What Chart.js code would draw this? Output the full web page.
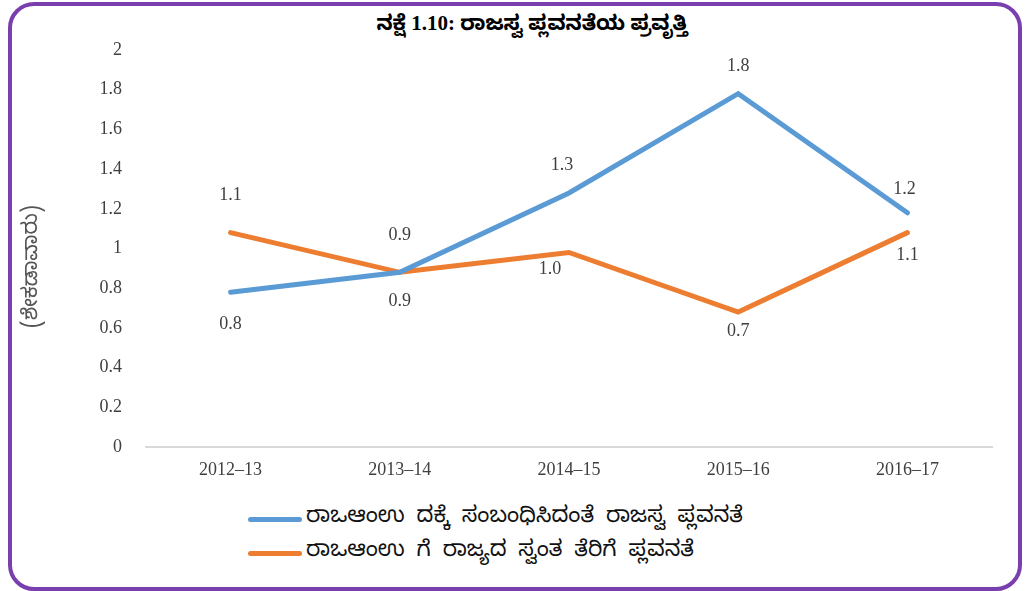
<!DOCTYPE html>
<html>
<head>
<meta charset="utf-8">
<script src="https://cdn.jsdelivr.net/npm/chart.js@4.4.0/dist/chart.umd.min.js"></script>
<style>
  body { margin: 0; background: #fff; }
  .frame {
    position: absolute; left: 8px; top: 2px; width: 1006px; height: 581px;
    border: 4px solid #7a3fae; border-radius: 26px; pointer-events: none;
  }
  .chart-box { position: absolute; left: 0; top: 0; width: 1030px; height: 495px; }
  .chart-title {
    position: absolute; left: 332px; width: 400px; top: 11px; text-align: center;
    font-family: "Liberation Serif", "Noto Sans Kannada", serif; font-size: 21px; font-weight: bold; color: #000;
  }
  .legend { position: absolute; left: 248px; top: 502px; font-family: "Noto Sans Kannada", "Noto Sans", sans-serif; font-size: 22px; word-spacing: 5.5px; color: #111; }
  .legend-item { display: flex; align-items: center; height: 34px; white-space: pre; }
  .legend-line { width: 54px; height: 5px; border-radius: 3px; margin-right: 4px; }
</style>
</head>
<body>
<div class="chart-title">ನಕ್ಷೆ 1.10: ರಾಜಸ್ವ ಪ್ಲವನತೆಯ ಪ್ರವೃತ್ತಿ</div>
<div class="chart-box"><canvas class="chart-1"></canvas></div>
<div class="legend"></div>
<div class="frame"></div>
<script>
const years = ['2012–13', '2013–14', '2014–15', '2015–16', '2016–17'];
const gsdpBuoyancy = [0.78, 0.88, 1.28, 1.78, 1.18];
const ownTaxBuoyancy = [1.08, 0.88, 0.98, 0.68, 1.08];
const seriesNames = [
    'ರಾಒಆಂಉ ದಕ್ಕೆ ಸಂಬಂಧಿಸಿದಂತೆ ರಾಜಸ್ವ ಪ್ಲವನತೆ',
    'ರಾಒಆಂಉ ಗೆ ರಾಜ್ಯದ ಸ್ವಂತ ತೆರಿಗೆ ಪ್ಲವನತೆ'
];
const colors = ['#5b9bd5', '#ed7d31'];

// label offsets (px) from the point, negative = above
const gsdpLabelDy = [32, -37, -28, -27, -24];
const gsdpLabelDx = [0, 0, -7, 0, -3];
const ownTaxLabelDy = [-37, 29, 17, 19, 23];
const ownTaxLabelDx = [0, 0, -19, 0, 0];

const chart1 = document.querySelector('.chart-1');
const legendBox = document.querySelector('.legend');

const valueLabels = {
    id: 'valueLabels',
    afterDatasetsDraw(chart) {
        const ctx = chart.ctx;
        ctx.save();
        ctx.font = '18px "Liberation Serif", serif';
        ctx.fillStyle = '#404040';
        ctx.textAlign = 'center';
        ctx.textBaseline = 'middle';
        const dys = [gsdpLabelDy, ownTaxLabelDy];
        const dxs = [gsdpLabelDx, ownTaxLabelDx];
        chart.data.datasets.forEach(function(ds, i) {
            const meta = chart.getDatasetMeta(i);
            meta.data.forEach(function(pt, j) {
                ctx.fillText(ds.data[j].toFixed(1), pt.x + dxs[i][j], pt.y + dys[i][j]);
            });
        });
        ctx.restore();
    }
};

new Chart(chart1, {
    type: 'line',
    data: {
        labels: years,
        datasets: [{
            label: seriesNames[0],
            data: gsdpBuoyancy,
            borderColor: colors[0],
            backgroundColor: colors[0],
            borderWidth: 5,
            borderCapStyle: 'round',
            pointRadius: 0,
            tension: 0
        }, {
            label: seriesNames[1],
            data: ownTaxBuoyancy,
            borderColor: colors[1],
            backgroundColor: colors[1],
            borderWidth: 5,
            borderCapStyle: 'round',
            pointRadius: 0,
            tension: 0
        }]
    },
    options: {
        responsive: true,
        maintainAspectRatio: false,
        animation: false,
        layout: { padding: { left: 10, right: 38, top: 50, bottom: 0 } },
        plugins: {
            legend: { display: false },
            tooltip: { enabled: false }
        },
        scales: {
            x: {
                offset: true,
                grid: { display: false, drawTicks: false },
                border: { color: '#d9d9d9', width: 2 },
                ticks: {
                    color: '#404040',
                    padding: 12,
                    font: { family: '"Liberation Serif", serif', size: 18 }
                },
                afterFit: function(scale) { scale.height = 48; }
            },
            y: {
                min: 0,
                max: 2,
                grid: { display: false, drawTicks: false },
                border: { display: false },
                ticks: {
                    stepSize: 0.2,
                    color: '#404040',
                    padding: 24,
                    font: { family: '"Liberation Serif", serif', size: 18 },
                    callback: function(value) { return String(Number(value.toFixed(1))); }
                },
                title: {
                    display: true,
                    text: '(ಶೇಕಡಾವಾರು)      ',
                    color: '#555',
                    font: { family: '"Noto Sans Kannada", "Noto Sans", sans-serif', size: 21 },
                    padding: { top: 12 }
                },
                afterFit: function(scale) { scale.width = 136; }
            }
        }
    },
    plugins: [valueLabels]
});

let htmlCode = '';
for (let i = 0; i < seriesNames.length; i++) {
    htmlCode += `<div class="legend-item"><span class="legend-line" style="background:${colors[i]}"></span>${seriesNames[i]}</div>`;
}
legendBox.innerHTML = htmlCode;
</script>
</body>
</html>
